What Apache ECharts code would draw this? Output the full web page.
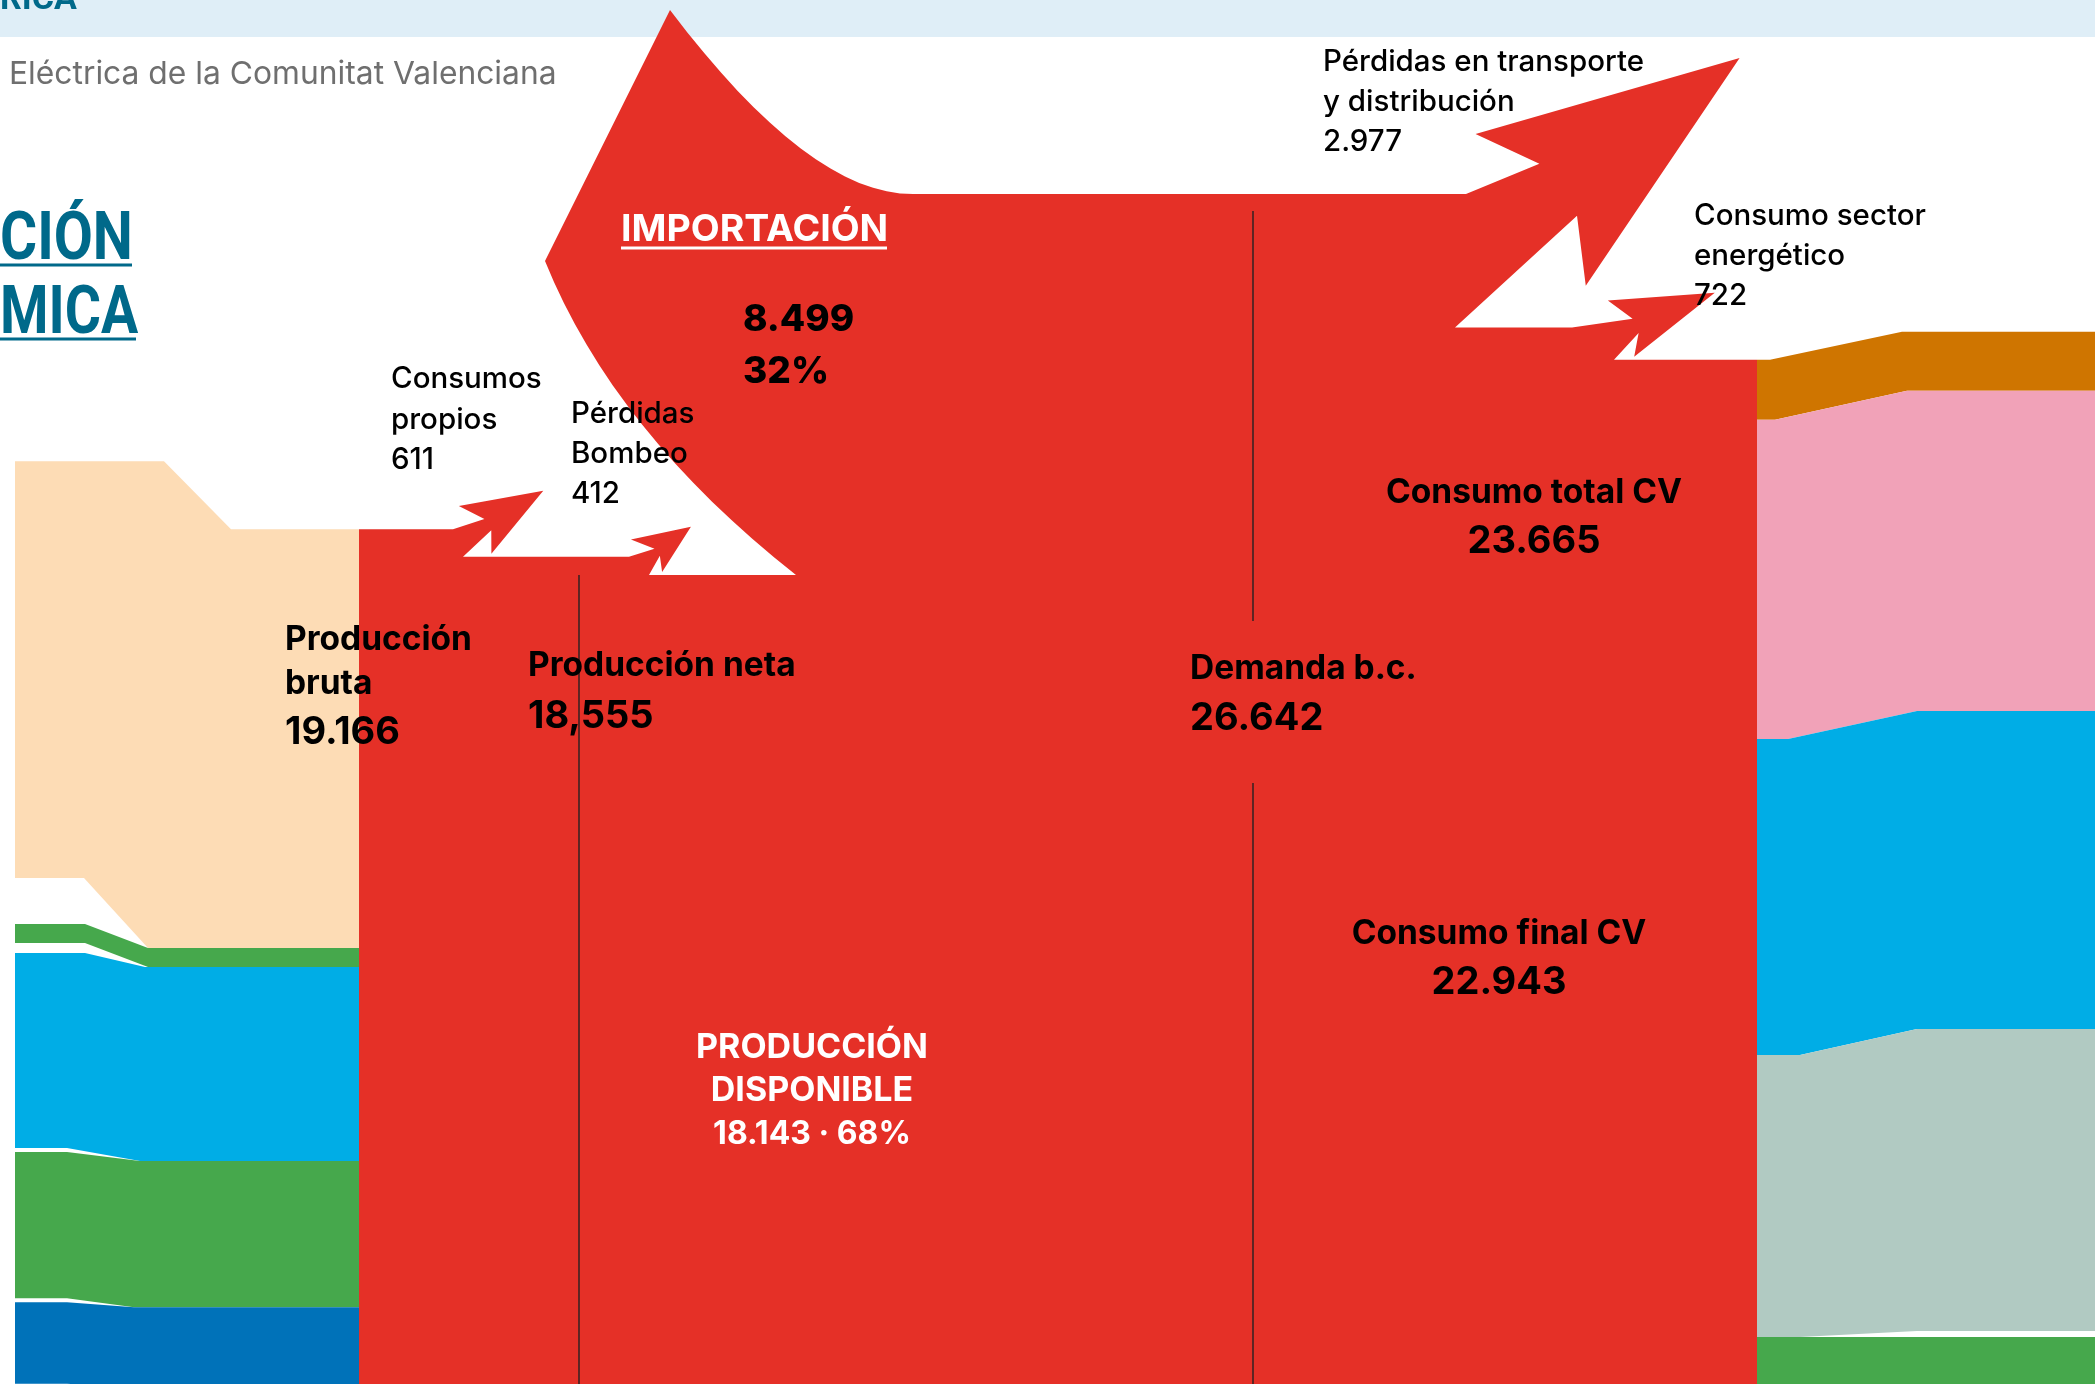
<!DOCTYPE html>
<html>
<head>
<meta charset="utf-8">
<script src="https://cdn.jsdelivr.net/npm/echarts@6/dist/echarts.min.js"></script>
<style>
  html, body { margin: 0; padding: 0; background: #fff; }
  #chart { width: 2095px; height: 1384px; }
</style>
</head>
<body>
<div id="chart"></div>
<script>
// Balance de energia electrica de la Comunitat Valenciana (GWh)
var flujoNombres = ['Producción bruta', 'Consumos propios', 'Pérdidas Bombeo', 'Producción neta',
    'Producción disponible', 'Importación', 'Demanda b.c.', 'Pérdidas en transporte y distribución',
    'Consumo sector energético', 'Consumo total CV', 'Consumo final CV'];
var flujoValores = [19166, 611, 412, 18555, 18143, 8499, 26642, 2977, 722, 23665, 22943];

// produccion bruta por fuente (aprox.)
var fuentes = ['Fuente 1', 'Fuente 2', 'Fuente 3', 'Fuente 4', 'Fuente 5'];
var fuenteValores = [9340, 420, 4330, 3260, 1816];

// consumo final por sector (aprox.)
var sectores = ['Sector 1', 'Sector 2', 'Sector 3', 'Sector 4', 'Sector 5'];
var sectorValores = [1338, 7114, 7047, 6289, 1155];

// estilos
var ROJO = '#e53027';
var fuenteColores = ['#fddcb5', '#46a84c', '#00ade6', '#46a84c', '#0072b9'];
var sectorColores = ['#cf7500', '#f1a2b8', '#00ade6', '#b1cac2', '#46a84c'];
var TEAL = '#00698a';

function val(n) { return flujoValores[flujoNombres.indexOf(n)]; }
function fmt(v, sep) {
    return String(v).replace(/\B(?=(\d{3})+(?!\d))/g, sep || '.');
}

var importacion = val('Importación');
var demanda = val('Demanda b.c.');
var nivelNeta = importacion - val('Pérdidas Bombeo');
var nivelBruta = nivelNeta - val('Consumos propios');
var nivelPerdidas = val('Pérdidas en transporte y distribución');
var nivelFinal = nivelPerdidas + val('Consumo sector energético');

// escala vertical: GWh por pixel y posicion del nivel 0 (arriba de la demanda)
var GWH_PX = 22.3, TOP0 = 194;

// posiciones de las etapas en el eje x (px del lienzo)
var X = { izq: 15, bruta: 359, neta: 579, demanda: 1253, final: 1757, der: 2100 };

var chart = echarts.init(document.getElementById('chart'));

function mk(api) {
    return function (x, v, dy) {
        var c = api.coord([x, v]);
        return [c[0], c[1] + (dy || 0)];
    };
}

function quad(pts, p0, c, p2, n) {
    for (var i = 1; i <= n; i++) {
        var t = i / n, a = (1 - t) * (1 - t), b = 2 * (1 - t) * t, e = t * t;
        pts.push([a * p0[0] + b * c[0] + e * p2[0], a * p0[1] + b * c[1] + e * p2[1]]);
    }
}

function flecha(pts, b0, b1, ang, len) {
    var t = b1[1] - b0[1];
    var r = ang * Math.PI / 180, d = [Math.cos(r), Math.sin(r)], n = [d[1], -d[0]];
    var m = [(b0[0] + b1[0]) / 2, (b0[1] + b1[1]) / 2];
    var ls = 0.35 * len, w = 0.24 * t, hb = w + 15 + 0.35 * t, bk = 10 + 0.18 * t;
    var c = [m[0] + d[0] * ls, m[1] + d[1] * ls];
    var pt = function (u, v) { return [c[0] + n[0] * u + d[0] * v, c[1] + n[1] * u + d[1] * v]; };
    var barbInf = pt(-hb, -bk);
    barbInf[1] = Math.min(barbInf[1], b1[1] - 3);
    pts.push(b0, pt(w, 0), pt(hb, -bk), [m[0] + d[0] * len, m[1] + d[1] * len], barbInf, pt(-w, 0), b1);
}

// bandas de produccion (izquierda)
var izqDesp = [[-68, -70], [-24, -24], [-14, -13], [-9, -9], [-5, -5]];
var izqRampa = [[[164, 231], [84, 148]], [[85, 148], [85, 148]], [[85, 145], [67, 140]],
    [[67, 140], [67, 134]], [[67, 134], [67, 134]]];

function renderFuente(params, api) {
    var K = mk(api), i = params.dataIndex;
    var top = nivelBruta;
    for (var j = 0; j < i; j++) top += fuenteValores[j];
    var bot = top + api.value(1);
    var rT = izqRampa[i][0], rB = izqRampa[i][1];
    var pts = [K(X.izq, top, izqDesp[i][0]), K(rT[0], top, izqDesp[i][0]), K(rT[1], top), K(X.bruta, top),
        K(X.bruta, bot), K(rB[1], bot), K(rB[0], bot, izqDesp[i][1]), K(X.izq, bot, izqDesp[i][1])];
    return { type: 'polygon', shape: { points: pts }, style: { fill: fuenteColores[i] } };
}

// bandas de consumo por sector (derecha)
var derDesp = [[-28, -29], [-29, -28], [-28, -26], [-26, -6], [0, 0]];
var derRampa = [[[1770, 1902], [1775, 1907]], [[1775, 1907], [1788, 1917]], [[1788, 1917], [1800, 1917]],
    [[1800, 1917], [1800, 1917]], [[1800, 1917], [1800, 1917]]];

function renderSector(params, api) {
    var K = mk(api), i = params.dataIndex;
    var top = nivelFinal;
    for (var j = 0; j < i; j++) top += sectorValores[j];
    var bot = top + api.value(1);
    var rT = derRampa[i][0], rB = derRampa[i][1];
    var pts = [K(X.final, top), K(rT[0], top), K(rT[1], top, derDesp[i][0]), K(X.der, top, derDesp[i][0]),
        K(X.der, bot, derDesp[i][1]), K(rB[1], bot, derDesp[i][1]), K(rB[0], bot), K(X.final, bot)];
    return { type: 'polygon', shape: { points: pts }, style: { fill: sectorColores[i] } };
}

// flujo principal: produccion -> demanda -> consumo
function renderFlujo(params, api) {
    var K = mk(api);
    var pts = [K(X.bruta, nivelBruta)];
    flecha(pts, K(453, nivelBruta), K(463, nivelNeta), -31.5, 100);
    flecha(pts, K(629, nivelNeta), K(649, importacion), -37, 65);
    // importacion
    var b = K(796, importacion), l = K(545, 0, 67);
    pts.push(b);
    quad(pts, b, [614, l[1] + 0.543 * (b[1] - l[1])], l, 16);
    var tip = K(670, 0, -184);
    pts.push(tip);
    quad(pts, tip, K(810, 0, 1), K(913, 0), 16);
    flecha(pts, K(1466, 0), K(1455, nivelPerdidas), -36, 345);
    flecha(pts, K(1572, nivelPerdidas), K(1614, nivelFinal), -22.7, 132);
    pts.push(K(X.final, nivelFinal), K(X.final, demanda), K(X.bruta, demanda));

    var linea = function (a, c) {
        return { type: 'line', shape: { x1: a[0], y1: a[1], x2: c[0], y2: c[1] },
            style: { stroke: '#3d2222', lineWidth: 1.6 } };
    };
    return {
        type: 'group',
        children: [
            { type: 'polygon', shape: { points: pts }, style: { fill: ROJO } },
            linea(K(X.neta, importacion), K(X.neta, demanda)),
            linea(K(X.demanda, 0, 17), K(X.demanda, 0, 427)),
            linea(K(X.demanda, 0, 589), K(X.demanda, demanda))
        ]
    };
}

// textos
var fReg = '500 29.5px Inter', fBold = 'bold 33.5px Inter', fNum = 'bold 38px Inter';
var pctImp = Math.round(importacion / demanda * 100);
var pctDisp = Math.round(val('Producción disponible') / demanda * 100);
var textos = [
    ['RICA', 0, 0, 'bold 34px Roboto', TEAL, 'left'],
    ['Eléctrica de la Comunitat Valenciana', 9, 74, '31.8px Inter', '#6f6f6f', 'left'],
    ['CIÓN', 0, 242, 'bold 66px Roboto', TEAL, 'left', 0.86],
    ['MICA', 0, 316, 'bold 66px Roboto', TEAL, 'left', 0.84],
    ['IMPORTACIÓN', 621, 230, 'bold 37.5px Inter', '#fff', 'left'],
    [fmt(importacion), 743, 320, '800 37px Inter', '#000', 'left'],
    [pctImp + '%', 743, 372, '800 37px Inter', '#000', 'left'],
    ['Consumos', 391, 379, fReg, '#000', 'left'],
    ['propios', 391, 420, fReg, '#000', 'left'],
    [fmt(val('Consumos propios')), 391, 460, fReg, '#000', 'left'],
    ['Pérdidas', 571, 414, fReg, '#000', 'left'],
    ['Bombeo', 571, 454, fReg, '#000', 'left'],
    [fmt(val('Pérdidas Bombeo')), 571, 494, fReg, '#000', 'left'],
    ['Pérdidas en transporte', 1323, 62, fReg, '#000', 'left'],
    ['y distribución', 1323, 102, fReg, '#000', 'left'],
    [fmt(val('Pérdidas en transporte y distribución')), 1323, 142, fReg, '#000', 'left'],
    ['Consumo sector', 1694, 216, fReg, '#000', 'left'],
    ['energético', 1694, 256, fReg, '#000', 'left'],
    [fmt(val('Consumo sector energético')), 1694, 296, fReg, '#000', 'left'],
    ['Producción', 285, 640, fBold, '#000', 'left'],
    ['bruta', 285, 684, fBold, '#000', 'left'],
    [fmt(val('Producción bruta')), 285, 733, fNum, '#000', 'left'],
    ['Producción neta', 528, 666, fBold, '#000', 'left'],
    [fmt(val('Producción neta'), ','), 528, 717, fNum, '#000', 'left'],
    ['Demanda b.c.', 1190, 669, fBold, '#000', 'left'],
    [fmt(demanda), 1190, 719, fNum, '#000', 'left'],
    ['Consumo total CV', 1534, 493, fBold, '#000', 'center'],
    [fmt(val('Consumo total CV')), 1534, 542, fNum, '#000', 'center'],
    ['Consumo final CV', 1499, 934, fBold, '#000', 'center'],
    [fmt(val('Consumo final CV')), 1499, 983, fNum, '#000', 'center'],
    ['PRODUCCIÓN', 812, 1048, 'bold 34px Inter', '#fff', 'center'],
    ['DISPONIBLE', 812, 1091, 'bold 34px Inter', '#fff', 'center'],
    [fmt(val('Producción disponible')) + ' · ' + pctDisp + '%', 812, 1134, 'bold 32px Inter', '#fff', 'center']
];

var graficos = [
    { type: 'rect', z: 0, shape: { x: 0, y: 0, width: 2095, height: 37 }, style: { fill: '#dfeef7' } },
    { type: 'line', z: 100, shape: { x1: 0, y1: 265, x2: 132, y2: 265 }, style: { stroke: TEAL, lineWidth: 3 } },
    { type: 'line', z: 100, shape: { x1: 0, y1: 339, x2: 136, y2: 339 }, style: { stroke: TEAL, lineWidth: 3 } },
    { type: 'line', z: 100, shape: { x1: 621, y1: 248, x2: 887, y2: 248 }, style: { stroke: '#fff', lineWidth: 3 } }
];
textos.forEach(function (t) {
    graficos.push({
        type: 'text', z: 100, x: t[1], y: t[2], scaleX: t[6] || 1,
        style: { text: t[0], font: t[3], fill: t[4], textAlign: t[5], textVerticalAlign: 'middle',
            align: t[5], verticalAlign: 'middle' }
    });
});

chart.setOption({
    animation: false,
    backgroundColor: '#fff',
    grid: { left: 0, right: 0, top: 0, bottom: 0 },
    xAxis: { type: 'value', min: 0, max: 2095, show: false },
    yAxis: { type: 'value', inverse: true, min: -TOP0 * GWH_PX, max: (1384 - TOP0) * GWH_PX, show: false },
    graphic: graficos,
    series: [
        { type: 'custom', name: 'Producción por fuente', z: 2, renderItem: renderFuente,
            data: fuenteValores.map(function (v, i) { return [i, v]; }) },
        { type: 'custom', name: 'Consumo por sector', z: 2, renderItem: renderSector,
            data: sectorValores.map(function (v, i) { return [i, v]; }) },
        { type: 'custom', name: 'Balance', z: 3, renderItem: renderFlujo, data: [[0, demanda]] }
    ]
});
</script>
</body>
</html>
